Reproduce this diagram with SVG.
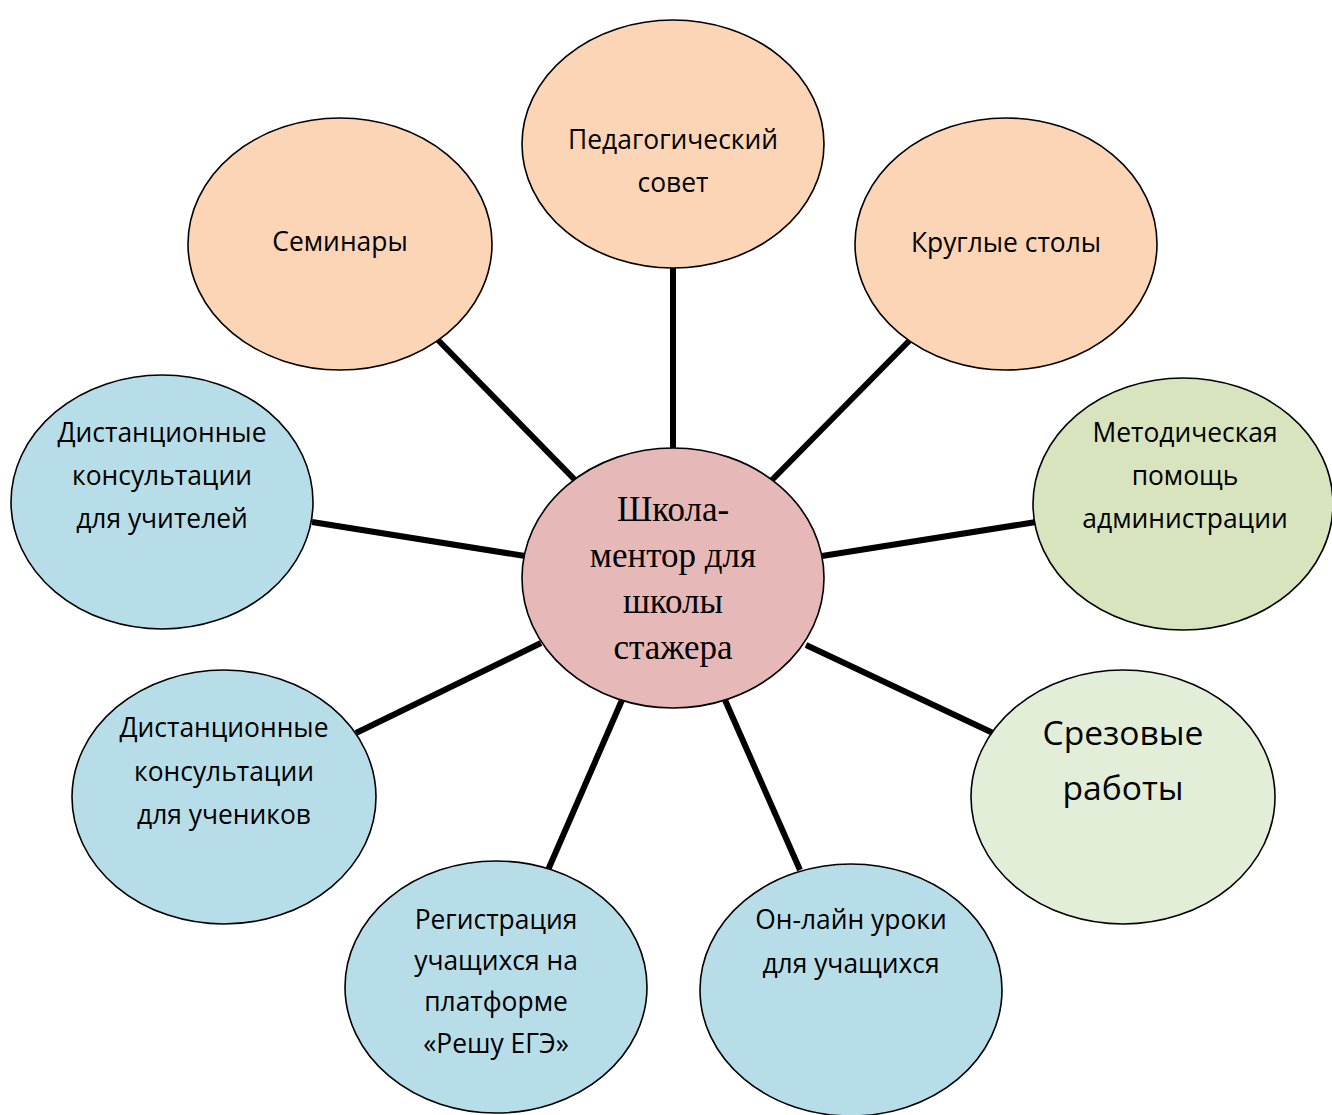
<svg xmlns="http://www.w3.org/2000/svg" width="1332" height="1115" viewBox="0 0 1332 1115">
<style>
.n{stroke:#000;stroke-width:1.6}
.peach{fill:#FBD5B5}
.blue{fill:#B7DEE8}
.green{fill:#D7E4BD}
.lgreen{fill:#E3EED9}
.center{fill:#E6B8B7}
.t{font-family:"Open Sans","Noto Sans","DejaVu Sans",sans-serif;font-size:26.4px;fill:#000;text-anchor:middle}
.big{font-size:33.6px}
.c{font-family:"Liberation Serif","Times New Roman",serif;font-size:35px;fill:#000;text-anchor:middle}
.e{stroke:#000;stroke-width:6;fill:none}
</style>
<rect width="1332" height="1115" fill="#fff"/>
<g id="connectors">
<line class="e" x1="673" y1="266" x2="673" y2="452"/>
<line class="e" x1="438" y1="340" x2="577" y2="482"/>
<line class="e" x1="910" y1="340" x2="770" y2="482"/>
<line class="e" x1="1036" y1="522" x2="822" y2="556"/>
<line class="e" x1="993" y1="733" x2="806" y2="645"/>
<line class="e" x1="800" y1="870" x2="725" y2="700"/>
<line class="e" x1="548" y1="870" x2="622" y2="700"/>
<line class="e" x1="356" y1="733" x2="541" y2="643"/>
<line class="e" x1="312" y1="522" x2="525" y2="556"/>
</g>
<g id="node-pedsovet">
<ellipse class="n peach" cx="673" cy="144" rx="151" ry="124"/>
<text class="t" x="673" y="149">Педагогический</text>
<text class="t" x="673" y="192">совет</text>
</g>
<g id="node-seminary">
<ellipse class="n peach" cx="340" cy="244" rx="152" ry="126"/>
<text class="t" x="340" y="251">Семинары</text>
</g>
<g id="node-kruglye">
<ellipse class="n peach" cx="1006" cy="244" rx="151" ry="126"/>
<text class="t" x="1006" y="252">Круглые столы</text>
</g>
<g id="node-metod">
<ellipse class="n green" cx="1183" cy="504" rx="150" ry="126"/>
<text class="t" x="1185" y="442">Методическая</text>
<text class="t" x="1185" y="485">помощь</text>
<text class="t" x="1185" y="528">администрации</text>
</g>
<g id="node-srez">
<ellipse class="n lgreen" cx="1123" cy="797" rx="152" ry="127"/>
<text class="t big" x="1123" y="745">Срезовые</text>
<text class="t big" x="1123" y="800">работы</text>
</g>
<g id="node-online">
<ellipse class="n blue" cx="851" cy="990" rx="151" ry="126"/>
<text class="t" x="851" y="929">Он-лайн уроки</text>
<text class="t" x="851" y="973">для учащихся</text>
</g>
<g id="node-reg">
<ellipse class="n blue" cx="496" cy="987" rx="151" ry="126"/>
<text class="t" x="496" y="929">Регистрация</text>
<text class="t" x="496" y="970">учащихся на</text>
<text class="t" x="496" y="1011">платформе</text>
<text class="t" x="496" y="1053">«Решу ЕГЭ»</text>
</g>
<g id="node-dist-uch">
<ellipse class="n blue" cx="224" cy="797" rx="152" ry="127"/>
<text class="t" x="224" y="737">Дистанционные</text>
<text class="t" x="224" y="781">консультации</text>
<text class="t" x="224" y="824">для учеников</text>
</g>
<g id="node-dist-teach">
<ellipse class="n blue" cx="162" cy="502" rx="151" ry="127"/>
<text class="t" x="162" y="442">Дистанционные</text>
<text class="t" x="162" y="485">консультации</text>
<text class="t" x="162" y="528">для учителей</text>
</g>
<g id="node-center">
<ellipse class="n center" cx="673" cy="578" rx="151" ry="130"/>
<text class="c" x="673" y="521">Школа-</text>
<text class="c" x="673" y="567">ментор для</text>
<text class="c" x="673" y="613">школы</text>
<text class="c" x="673" y="659">стажера</text>
</g>
</svg>
